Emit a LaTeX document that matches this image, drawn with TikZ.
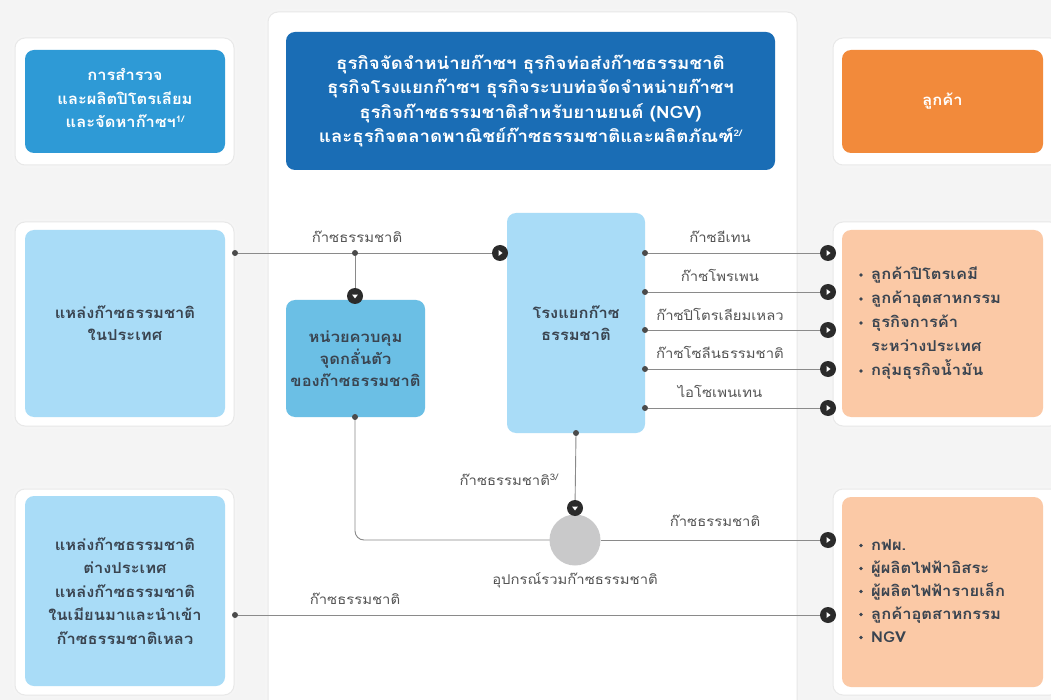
\documentclass[tikz,border=0pt]{standalone}
\usepackage{fontspec}
\setmainfont[Script=Thai,FakeStretch=1.1]{Loma}
\usetikzlibrary{calc}
\pgfdeclarelayer{bg}
\pgfdeclarelayer{lines}
\pgfsetlayers{bg,lines,main}
\definecolor{pagebg}{HTML}{F4F4F4}
\definecolor{darkblue}{HTML}{1A6DB5}
\definecolor{midblue}{HTML}{2E9AD6}
\definecolor{lightblue}{HTML}{A9DCF7}
\definecolor{ctrlblue}{HTML}{6BBFE5}
\definecolor{orangebox}{HTML}{F28A3B}
\definecolor{peach}{HTML}{FBC9A6}
\definecolor{graycirc}{HTML}{C9C9CA}
\definecolor{txtdark}{HTML}{3A4450}
\definecolor{txtlabel}{HTML}{555555}
\definecolor{linegray}{HTML}{8A8A8A}
\definecolor{arrowdark}{HTML}{2B2B2B}
\newcommand{\bul}{\makebox[12pt][l]{\raisebox{0.4ex}{\tikz\fill[txtdark] (0,0) circle (1.8pt);}}}
\newcommand{\supfn}[1]{\raisebox{0.7ex}{\fontsize{9}{9}\selectfont #1}}
\begin{document}
\begin{tikzpicture}[x=1pt,y=-1pt,
  panel/.style={fill=white,draw=black!9,line width=1pt,rounded corners=10pt,
     preaction={draw=black!4,line width=6pt}},
  box/.style={rounded corners=9pt,inner sep=0pt,align=center,
     font=\bfseries\fontsize{15}{22}\selectfont},
  lbl/.style={font=\fontsize{13.5}{15}\selectfont,text=txtlabel,inner sep=1pt},
  conn/.style={draw=linegray,line width=0.9pt},
  dotn/.style={circle,fill=arrowdark!85,inner sep=0pt,minimum size=6pt},
  arrright/.style={circle,fill=arrowdark,inner sep=0pt,minimum size=16pt,
     path picture={\fill[white] ($(path picture bounding box.center)+(-1.3pt,-2.8pt)$)
       -- ++(0,5.6pt) -- ++(3.8pt,-2.8pt) -- cycle;}},
  arrdown/.style={circle,fill=arrowdark,inner sep=0pt,minimum size=16pt,
     path picture={\fill[white] ($(path picture bounding box.center)+(-2.8pt,1.3pt)$)
       -- ++(5.6pt,0) -- ++(-2.8pt,-3.8pt) -- cycle;}}
]
\useasboundingbox (0,0) rectangle (1051,700);
\begin{pgfonlayer}{bg}
  \clip (0,0) rectangle (1051,700);
  \fill[pagebg] (0,0) rectangle (1051,700);
  \path[panel] (268,12) rectangle (797,730);
  \path[panel] (15,38) rectangle (234,165);
  \path[panel] (15,222) rectangle (234,426);
  \path[panel] (15,489) rectangle (234,695);
  \path[panel] (833,38) rectangle (1060,165);
  \path[panel] (833,222) rectangle (1060,426);
  \path[panel] (833,489) rectangle (1060,695);
\end{pgfonlayer}

% boxes
\node[box,fill=midblue,text=white,minimum width=200pt,minimum height=103pt]
  (lt) at (125,101.5) {};
\node[align=center,text=white,inner sep=0pt,font=\bfseries\fontsize{15}{23.5}\selectfont]
  (ltt) at (125,98) {การสำรวจ\\และผลิตปิโตรเลียม\\และจัดหาก๊าซฯ\supfn{1/}};
\node[box,fill=lightblue,text=txtdark,minimum width=200pt,minimum height=187pt]
  (lm) at (125,323.5) {แหล่งก๊าซธรรมชาติ\\ในประเทศ};
\node[box,fill=lightblue,text=txtdark,minimum width=200pt,minimum height=190pt,
  font=\bfseries\fontsize{15}{23.5}\selectfont]
  (lb) at (125,591) {แหล่งก๊าซธรรมชาติ\\ต่างประเทศ\\แหล่งก๊าซธรรมชาติ\\ในเมียนมาและนำเข้า\\ก๊าซธรรมชาติเหลว};
\node[box,fill=darkblue,text=white,minimum width=489pt,minimum height=138pt,
  font=\bfseries\fontsize{17}{24.3}\selectfont]
  (top) at (530.5,101) {ธุรกิจจัดจำหน่ายก๊าซฯ ธุรกิจท่อส่งก๊าซธรรมชาติ\\ธุรกิจโรงแยกก๊าซฯ ธุรกิจระบบท่อจัดจำหน่ายก๊าซฯ\\ธุรกิจก๊าซธรรมชาติสำหรับยานยนต์ (NGV)\\และธุรกิจตลาดพาณิชย์ก๊าซธรรมชาติและผลิตภัณฑ์\supfn{2/}};
\node[box,fill=orangebox,text=white,minimum width=201pt,minimum height=103pt]
  (rt) at (942.5,101.5) {ลูกค้า};
\node[box,fill=peach,minimum width=201pt,minimum height=187pt] (rm) at (942.5,323.5) {};
\node[box,fill=peach,minimum width=201pt,minimum height=190pt] (rb) at (942.5,592) {};
\node[anchor=west,align=left,text=txtdark,inner sep=0pt,
  font=\bfseries\fontsize{15}{24}\selectfont] (rmt) at (859,323.5)
  {\bul ลูกค้าปิโตรเคมี\\\bul ลูกค้าอุตสาหกรรม\\\bul ธุรกิจการค้า\\\hspace*{12pt}ระหว่างประเทศ\\\bul กลุ่มธุรกิจน้ำมัน};
\node[anchor=west,align=left,text=txtdark,inner sep=0pt,
  font=\bfseries\fontsize{15}{23}\selectfont] (rbt) at (859,591)
  {\bul กฟผ.\\\bul ผู้ผลิตไฟฟ้าอิสระ\\\bul ผู้ผลิตไฟฟ้ารายเล็ก\\\bul ลูกค้าอุตสาหกรรม\\\bul NGV};
\node[box,fill=ctrlblue,text=txtdark,minimum width=139pt,minimum height=117pt]
  (ctrl) at (355.5,358.5) {หน่วยควบคุม\\จุดกลั่นตัว\\ของก๊าซธรรมชาติ};
\node[box,fill=lightblue,text=txtdark,minimum width=138pt,minimum height=220pt]
  (ref) at (576,323) {โรงแยกก๊าซ\\ธรรมชาติ};
\node[circle,fill=graycirc,minimum size=51pt,inner sep=0pt] (circ) at (575,540) {};
\node[lbl] (circl) at (575,580) {อุปกรณ์รวมก๊าซธรรมชาติ};

% dots
\node[dotn] (d1) at (235,253) {};
\node[dotn] (j1) at (355,253) {};
\node[dotn] (cb) at (355,417) {};
\node[dotn] (rbd) at (576,433) {};
\node[dotn] (o1) at (645,253) {};
\node[dotn] (o2) at (645,292) {};
\node[dotn] (o3) at (645,330) {};
\node[dotn] (o4) at (645,369) {};
\node[dotn] (o5) at (645,408) {};
\node[dotn] (d2) at (235,615) {};

% arrow heads
\node[arrright] (a1) at (500,253) {};
\node[arrdown] (a2) at (355,296) {};
\node[arrdown] (a3) at (575,508) {};
\node[arrright] (e1) at (828,253) {};
\node[arrright] (e2) at (828,292) {};
\node[arrright] (e3) at (828,330) {};
\node[arrright] (e4) at (828,369) {};
\node[arrright] (e5) at (828,408) {};
\node[arrright] (e6) at (828,540) {};
\node[arrright] (e7) at (828,615) {};
\coordinate (cturn) at (355,540);

\begin{pgfonlayer}{lines}
  \draw[conn] (d1) -- (a1);
  \draw[conn] (j1) -- (a2);
  \draw[conn] (o1) -- (e1);
  \draw[conn] (o2) -- (e2);
  \draw[conn] (o3) -- (e3);
  \draw[conn] (o4) -- (e4);
  \draw[conn] (o5) -- (e5);
  \draw[conn] (rbd) -- (a3);
  \draw[conn,rounded corners=9pt] (cb.center) -- (cturn) -- (circ.center);
  \draw[conn] (circ) -- (e6);
  \draw[conn] (d2) -- (e7);
\end{pgfonlayer}

% labels
\node[lbl] (l1) at (357,237) {ก๊าซธรรมชาติ};
\node[lbl] (l2) at (720,237) {ก๊าซอีเทน};
\node[lbl] (l3) at (720,275) {ก๊าซโพรเพน};
\node[lbl] (l4) at (720,314) {ก๊าซปิโตรเลียมเหลว};
\node[lbl] (l5) at (720,352) {ก๊าซโซลีนธรรมชาติ};
\node[lbl] (l6) at (720,391) {ไอโซเพนเทน};
\node[lbl] (l7) at (509,480) {ก๊าซธรรมชาติ\supfn{3/}};
\node[lbl] (l8) at (715,521) {ก๊าซธรรมชาติ};
\node[lbl] (l9) at (355,599) {ก๊าซธรรมชาติ};
\end{tikzpicture}
\end{document}
